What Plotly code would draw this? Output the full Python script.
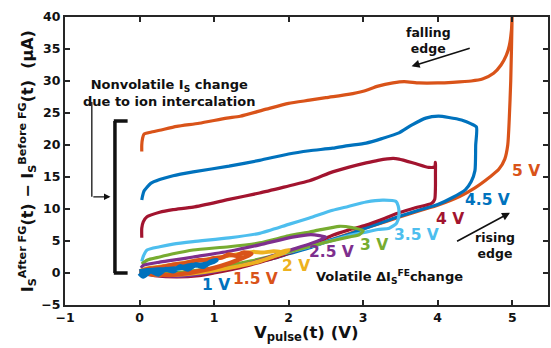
import plotly.graph_objects as go

# Pulse amplitudes and their MATLAB-style colours
labels = ["5 V", "4.5 V", "4 V", "3.5 V", "3 V", "2.5 V", "2 V", "1.5 V", "1 V"]
colors = ["#D95319", "#0072BD", "#A2142F", "#4DBEEE", "#77AC30",
          "#7E2F8E", "#EDB120", "#D95319", "#0072BD"]

# Each loop: rising edge followed by falling edge, V_pulse (V) and delta I_S (uA)
v_5 = [0.0, 0.2, 0.5, 0.8, 1.0, 1.3, 1.5, 1.8, 2.0, 2.3, 2.5, 2.8, 3.0, 3.3, 3.5, 3.8, 4.0, 4.3, 4.5, 4.7,
       4.82, 4.9, 4.94, 4.96, 4.98, 5.0,
       4.99, 4.96, 4.92, 4.85, 4.75, 4.6, 4.45, 4.2, 4.0, 3.75, 3.55, 3.4, 3.2, 3.0, 2.8, 2.5, 2.28, 2.0,
       1.7, 1.35, 1.17, 0.8, 0.5, 0.27, 0.15, 0.06, 0.04, 0.03, 0.03]
i_5 = [0.0, -0.2, -0.3, 0.1, 0.5, 1.1, 1.6, 2.4, 3.1, 4.1, 4.9, 6.1, 6.9, 8.0, 8.8, 9.9, 10.6, 12.0, 13.3, 15.0,
       16.2, 17.8, 20.0, 24.0, 30.0, 41.0,
       38.0, 35.5, 34.0, 32.5, 31.2, 30.3, 30.0, 29.8, 29.7, 29.7, 29.9, 29.7, 29.2, 28.4, 27.9, 27.4, 27.0, 26.5,
       25.6, 24.5, 24.2, 23.4, 22.9, 22.3, 22.0, 21.7, 21.0, 20.0, 19.0]

v_45 = [0.0, 0.2, 0.5, 0.8, 1.0, 1.3, 1.5, 1.8, 2.0, 2.3, 2.5, 2.8, 3.0, 3.3, 3.5, 3.8, 4.0, 4.2, 4.37,
        4.45, 4.5, 4.51, 4.52,
        4.45, 4.32, 4.15, 4.01, 3.84, 3.65, 3.48, 3.25, 3.04, 2.8, 2.59, 2.28, 2.0, 1.61, 1.2, 0.72, 0.45,
        0.27, 0.15, 0.1, 0.06, 0.04, 0.03]
i_45 = [0.0, -0.3, -0.4, -0.1, 0.3, 1.0, 1.5, 2.3, 3.0, 4.0, 4.9, 6.0, 6.9, 8.1, 8.9, 10.0, 10.7, 11.8, 13.0,
        14.3, 16.0, 20.0, 22.8,
        23.3, 23.9, 24.3, 24.5, 24.2, 23.1, 21.9, 21.0, 20.3, 19.9, 19.5, 19.1, 18.6, 17.6, 16.7, 15.8, 15.2,
        14.6, 14.0, 13.4, 12.8, 12.0, 11.4]

v_4 = [0.0, 0.2, 0.5, 0.8, 1.0, 1.3, 1.5, 1.8, 2.0, 2.3, 2.59, 2.8, 3.04, 3.3, 3.48, 3.7, 3.92, 3.96,
       3.97, 3.97, 3.97,
       3.96, 3.88, 3.7, 3.48, 3.4, 3.2, 3.04, 2.8, 2.59, 2.28, 2.0, 1.61, 1.2, 0.72, 0.45, 0.27, 0.1, 0.05,
       0.03, 0.03]
i_4 = [0.0, -0.4, -0.6, -0.4, 0.0, 0.7, 1.3, 2.3, 3.1, 4.4, 5.9, 6.7, 7.5, 8.6, 9.4, 10.2, 10.9, 11.5,
       13.5, 15.5, 17.3,
       16.6, 16.5, 17.1, 17.8, 17.9, 17.6, 17.2, 16.5, 15.8, 14.4, 13.6, 12.5, 11.5, 10.3, 9.9, 9.5, 8.8, 8.0,
       7.0, 5.5]

v_35 = [0.0, 0.3, 0.6, 1.0, 1.5, 2.0, 2.5, 2.8, 3.0, 3.2, 3.35,
        3.45, 3.48, 3.47, 3.44, 3.26, 3.04, 2.8, 2.59, 2.28, 2.0, 1.61, 1.2, 0.72, 0.45, 0.27, 0.1, 0.05, 0.03]
i_35 = [0.0, -0.2, 0.0, 0.5, 1.7, 3.2, 4.8, 5.8, 6.3, 6.8, 7.0,
        7.8, 9.0, 10.5, 11.2, 11.4, 11.1, 10.4, 9.8, 8.6, 7.6, 6.2, 5.5, 4.9, 4.5, 4.1, 3.6, 2.6, 1.8]

v_3 = [0.0, 0.3, 0.6, 1.0, 1.5, 2.0, 2.5, 2.8, 2.95, 3.0,
       2.85, 2.68, 2.4, 2.28, 2.0, 1.61, 1.2, 0.72, 0.45, 0.27, 0.1, 0.03]
i_3 = [0.0, -0.1, 0.2, 0.8, 1.9, 3.3, 4.8, 5.6, 6.0, 6.6,
       7.1, 7.3, 6.7, 6.4, 5.8, 4.7, 4.1, 3.6, 3.0, 2.5, 2.0, 1.4]

v_25 = [0.0, 0.3, 0.6, 1.0, 1.5, 2.0, 2.3, 2.5,
        2.3, 2.05, 1.61, 1.2, 0.72, 0.45, 0.27, 0.05, 0.02]
i_25 = [0.1, -0.4, -0.5, 0.2, 1.6, 3.5, 4.6, 5.6,
        6.0, 5.6, 4.4, 3.4, 2.5, 2.0, 1.7, 1.2, 0.8]

v_2 = [0.0, 0.3, 0.6, 1.0, 1.3, 1.6, 1.8, 1.95, 2.0,
       1.9, 1.8, 1.65, 1.52, 1.3, 1.0, 0.7, 0.4, 0.1, 0.02]
i_2 = [0.0, -0.3, -0.2, 0.4, 1.0, 1.8, 2.6, 3.2, 3.6,
       3.3, 3.4, 3.2, 3.3, 2.9, 2.3, 1.8, 1.2, 0.7, 0.4]

v_15 = [0.0, 0.2, 0.4, 0.6, 0.8, 1.0, 1.2, 1.35, 1.5,
        1.4, 1.3, 1.2, 1.1, 1.0, 0.9, 0.8, 0.6, 0.45, 0.3, 0.15, 0.05, 0.0]
i_15 = [0.0, -0.2, -0.3, -0.1, 0.3, 0.8, 1.5, 2.2, 3.0,
        3.2, 2.7, 2.9, 2.4, 2.3, 2.0, 2.0, 1.5, 1.3, 0.9, 0.7, 0.4, 0.2]

v_1 = [0.0, 0.05, 0.15, 0.25, 0.35, 0.45, 0.55, 0.65, 0.75, 0.85, 0.95, 1.03,
       0.95, 0.85, 0.7, 0.55, 0.4, 0.25, 0.1, 0.0]
i_1 = [0.0, -0.5, 0.3, -0.2, 0.6, 0.3, 1.0, 0.6, 1.3, 1.0, 1.7, 2.0,
       1.6, 1.3, 1.2, 0.8, 0.6, 0.5, 0.4, 0.2]

loops_v = [v_5, v_45, v_4, v_35, v_3, v_25, v_2, v_15, v_1]
loops_i = [i_5, i_45, i_4, i_35, i_3, i_25, i_2, i_15, i_1]
widths = [3.2, 3.2, 3.2, 3.2, 3.2, 3.2, 4, 4.5, 5]

# Label positions for each amplitude
label_x = [5.19, 4.67, 4.17, 3.71, 3.14, 2.58, 2.1, 1.55, 1.03]
label_y = [15.9, 11.4, 8.4, 5.9, 4.4, 3.3, 1.1, -0.9, -1.9]

FONT = "DejaVu Sans"
fig = go.Figure()

for v, i, c, w in zip(loops_v, loops_i, colors, widths):
    fig.add_trace(go.Scatter(x=v, y=i, mode="lines",
                             line=dict(color=c, width=w, shape="spline", smoothing=0.6),
                             showlegend=False, hoverinfo="skip"))

annotations = []
for lab, c, lx, ly in zip(labels, colors, label_x, label_y):
    annotations.append(dict(x=lx, y=ly, text="<b>%s</b>" % lab, showarrow=False,
                            font=dict(family=FONT, size=15.5, color=c)))

black = "#111111"
annotations += [
    dict(x=0.40, y=28.1, text="<b>Nonvolatile I<sub>S</sub> change<br>due to ion intercalation</b>",
         showarrow=False, font=dict(family=FONT, size=13, color=black)),
    dict(x=2.34, y=-0.6, xanchor="left", yanchor="middle",
         text="<b>Volatile ΔI<sub>S</sub><sup>FE</sup>change</b>",
         showarrow=False, font=dict(family=FONT, size=13, color=black)),
    dict(x=3.87, y=36.4, text="<b>falling<br>edge</b>", showarrow=False,
         font=dict(family=FONT, size=12.5, color=black)),
    dict(x=4.77, y=4.3, text="<b>rising<br>edge</b>", showarrow=False,
         font=dict(family=FONT, size=12.5, color=black)),
    # arrows
    dict(x=3.65, y=32.3, ax=4.45, ay=35.2, axref="x", ayref="y", text="", showarrow=True,
         arrowhead=2, arrowsize=1, arrowwidth=1.6, arrowcolor=black),
    dict(x=4.97, y=9.4, ax=4.24, ay=4.84, axref="x", ayref="y", text="", showarrow=True,
         arrowhead=2, arrowsize=1, arrowwidth=1.6, arrowcolor=black),
    dict(x=-0.39, y=11.9, ax=-0.64, ay=11.9, axref="x", ayref="y", text="", showarrow=True,
         arrowhead=2, arrowsize=1, arrowwidth=1.3, arrowcolor=black),
    # axis titles
    dict(xref="paper", yref="paper", x=-0.078, y=0.5, xanchor="center", yanchor="middle",
         textangle=-90, showarrow=False,
         text="<b>I<sub>S</sub><sup>After FG</sup>(t) − I<sub>S</sub><sup>Before FG</sup>(t)  (μA)</b>",
         font=dict(family=FONT, size=16, color=black)),
    dict(xref="paper", yref="paper", x=0.5, y=-0.098, xanchor="center", yanchor="middle",
         showarrow=False, text="<b>V<sub>pulse</sub>(t) (V)</b>",
         font=dict(family=FONT, size=16.5, color=black)),
]

shapes = [
    # bracket marking the nonvolatile offsets
    dict(type="line", x0=-0.33, x1=-0.33, y0=23.75, y1=0.0, line=dict(color=black, width=3.5)),
    dict(type="line", x0=-0.345, x1=-0.16, y0=23.75, y1=23.75, line=dict(color=black, width=3.5)),
    dict(type="line", x0=-0.345, x1=-0.16, y0=0.0, y1=0.0, line=dict(color=black, width=3.5)),
    # elbow of the pointer arrow
    dict(type="line", x0=-0.64, x1=-0.64, y0=26.7, y1=11.9, line=dict(color=black, width=1.3)),
]

axis_common = dict(showline=True, linewidth=2, linecolor="#262626", mirror="ticks",
                   ticks="inside", ticklen=5, tickwidth=1.5, tickcolor="#262626",
                   showgrid=False, zeroline=False,
                   tickfont=dict(family=FONT, size=12.5, color=black, weight="bold"))

fig.update_layout(
    width=551, height=348,
    margin=dict(l=65, r=1, t=17, b=43),
    paper_bgcolor="white", plot_bgcolor="white",
    xaxis=dict(range=[-1, 5.48], tickvals=[-1, 0, 1, 2, 3, 4, 5], **axis_common),
    yaxis=dict(range=[-5, 40], tickvals=list(range(-5, 41, 5)), **axis_common),
    annotations=annotations, shapes=shapes, hovermode=False,
)

fig.write_html("out.html", config={"displayModeBar": False})
